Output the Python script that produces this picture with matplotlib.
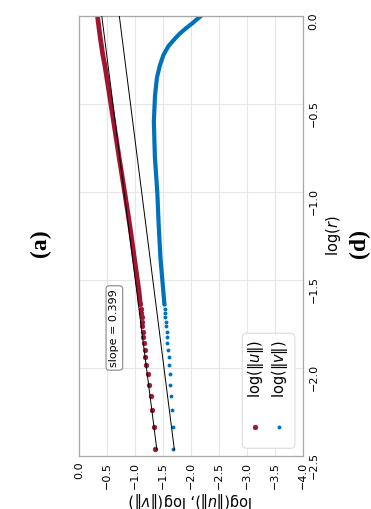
import numpy as np
import matplotlib.pyplot as plt
from matplotlib.patches import FancyBboxPatch

RED = '#A2142F'
BLUE = '#0072BD'

# sparse part (separate dots), log10 r and the two norms
logr_dots = [-2.462, -2.337, -2.240, -2.161, -2.094, -2.036, -1.985, -1.939, -1.898,
             -1.860, -1.826, -1.794, -1.764, -1.736, -1.710, -1.685, -1.662, -1.639]
u_dots = [-1.363, -1.339, -1.309, -1.280, -1.245, -1.226, -1.202, -1.184, -1.173,
          -1.161, -1.150, -1.141, -1.133, -1.125, -1.117, -1.110, -1.103, -1.096]
v_dots = [-1.684, -1.673, -1.655, -1.637, -1.625, -1.619, -1.613, -1.602, -1.589,
          -1.577, -1.570, -1.563, -1.556, -1.550, -1.544, -1.538, -1.532, -1.526]

# dense part (dots merge into a band)
logr_band = [-1.639, -1.566, -1.377, -1.2, -1.0, -0.8, -0.6, -0.45, -0.35,
             -0.28, -0.22, -0.17, -0.13, -0.10, -0.07, -0.04, -0.02, 0.0]
u_band = [-1.096, -1.073, -0.990, -0.912, -0.815, -0.715, -0.618, -0.545, -0.496,
          -0.462, -0.425, -0.402, -0.383, -0.370, -0.358, -0.346, -0.338, -0.330]
v_band = [-1.526, -1.506, -1.455, -1.425, -1.398, -1.355, -1.337, -1.358, -1.392,
          -1.445, -1.510, -1.600, -1.710, -1.800, -1.910, -2.030, -2.100, -2.180]

# fitted lines, slope 0.399
slope = 0.399
fit_logr = [-2.466, 0.0]
fit_u = [-1.391, -0.407]
fit_v = [-1.704, -0.720]

fig = plt.figure(figsize=(3.71, 5.09), dpi=100)
ax = fig.add_axes([0.2129, 0.1041, 0.6038, 0.8645])

# the chart is shown turned a quarter turn: log(r) runs up, the norms run right
ax.plot(u_dots, logr_dots, 'o', ms=3.4, color=RED, mec='#8a1028', mew=0.4, zorder=2)
ax.plot(u_band, logr_band, '-', lw=3.4, color=RED, solid_capstyle='round', zorder=2)
ax.plot(v_dots, logr_dots, 'o', ms=2.8, color=BLUE, mew=0, zorder=2)
ax.plot(v_band, logr_band, '-', lw=3.0, color=BLUE, solid_capstyle='round', zorder=2)
ax.plot(fit_u, fit_logr, color='k', lw=0.7, zorder=3)
ax.plot(fit_v, fit_logr, color='k', lw=0.7, zorder=3)

ax.set_xlim(0, -4)
ax.set_ylim(-2.5, 0)
ax.set_xticks(np.arange(0, -4.01, -0.5))
ax.set_yticks(np.arange(-2.5, 0.01, 0.5))
ax.yaxis.tick_right()
ax.yaxis.set_label_position('right')
ax.tick_params(axis='both', length=0, pad=4, labelsize=8, labelrotation=90)
ax.grid(True, color='#e6e6e6', lw=0.8)
ax.set_axisbelow(True)
for s in ax.spines.values():
    s.set_color('#a8a8a8')
    s.set_linewidth(0.9)

ax.set_xlabel('log($\\|u\\|$), log($\\|v\\|$)', rotation=180, fontsize=10.5, labelpad=1)
ax.set_ylabel('log($r$)', rotation=90, fontsize=10.5)

ax.text(0.158, 0.291, f'slope = {slope}', rotation=90, ha='center', va='center',
        fontsize=8, transform=ax.transAxes, zorder=5,
        bbox=dict(boxstyle='round,pad=0.3', fc='white', ec='#888888', lw=0.8))

# legend, turned like the rest
box = FancyBboxPatch((0.729, 0.0175), 0.235, 0.2615,
                     boxstyle='round,pad=0,rounding_size=0.02',
                     mutation_aspect=224 / 440, transform=ax.transAxes,
                     fc='white', ec='#dddddd', lw=0.8, zorder=4)
ax.add_patch(box)
ax.plot([0.786], [0.065], 'o', ms=3.4, color=RED, mec='#8a1028', mew=0.4,
        transform=ax.transAxes, zorder=5)
ax.plot([0.894], [0.065], 'o', ms=2.8, color=BLUE, mew=0,
        transform=ax.transAxes, zorder=5)
ax.text(0.790, 0.132, 'log($\\|u\\|$)', rotation=90, ha='center', va='bottom',
        fontsize=10.5, transform=ax.transAxes, zorder=5)
ax.text(0.899, 0.132, 'log($\\|v\\|$)', rotation=90, ha='center', va='bottom',
        fontsize=10.5, transform=ax.transAxes, zorder=5)

fig.text(0.970, 0.522, '(d)', rotation=90, ha='center', va='center',
         family='Liberation Serif', weight='bold', fontsize=17)
fig.text(0.108, 0.522, '(a)', rotation=90, ha='center', va='center',
         family='Liberation Serif', weight='bold', fontsize=17)

fig.savefig('out.png', dpi=100)
